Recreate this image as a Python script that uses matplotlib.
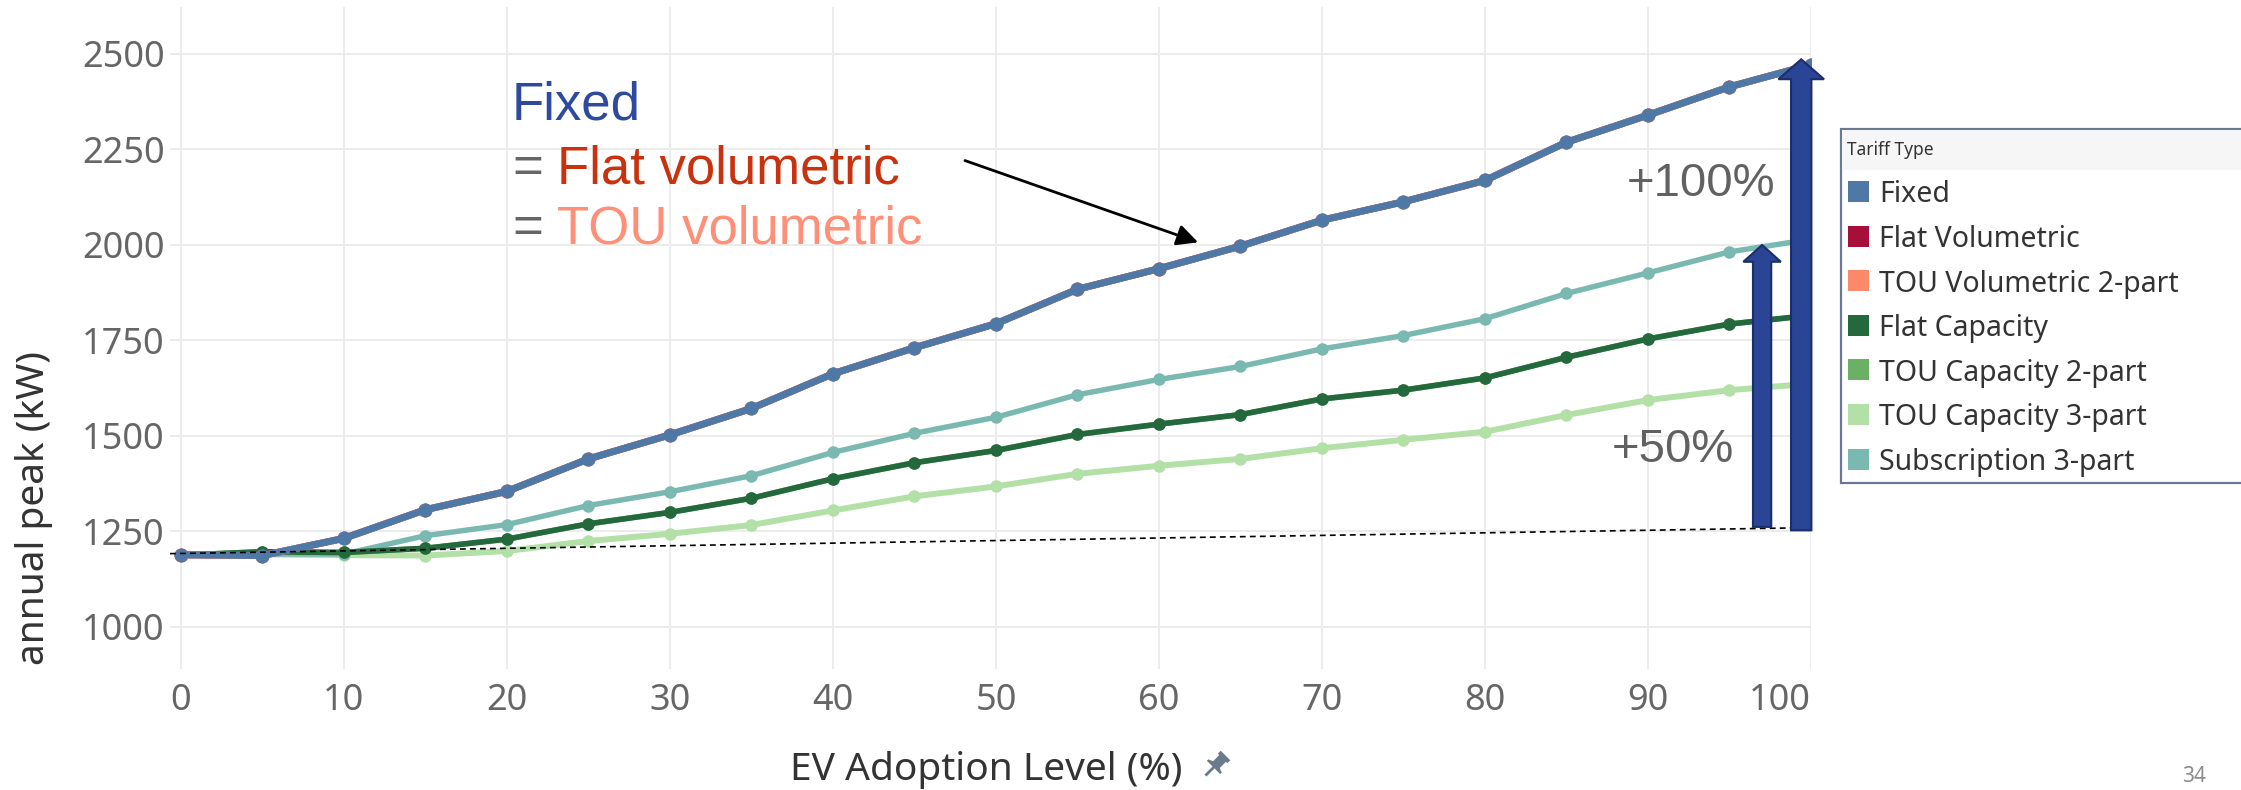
import numpy as np
import matplotlib
matplotlib.use("Agg")
import matplotlib.pyplot as plt
from matplotlib.patches import FancyArrow, Rectangle, Polygon

# ---- data -------------------------------------------------------------
ev_adoption = [0, 5, 10, 15, 20, 25, 30, 35, 40, 45, 50,
               55, 60, 65, 70, 75, 80, 85, 90, 95, 100]

fixed = [1189, 1187, 1232, 1307, 1355, 1440, 1503, 1572, 1663, 1731, 1794,
         1884, 1938, 1997, 2065, 2113, 2169, 2269, 2340, 2414, 2472]
flat_volumetric = [1189, 1187, 1232, 1307, 1355, 1440, 1503, 1572, 1663, 1731, 1794,
                   1884, 1938, 1997, 2065, 2113, 2169, 2269, 2340, 2414, 2472]
tou_volumetric_2part = [1189, 1187, 1232, 1307, 1355, 1440, 1503, 1572, 1663, 1731, 1794,
                        1884, 1938, 1997, 2065, 2113, 2169, 2269, 2340, 2414, 2472]
flat_capacity = [1188, 1197, 1195, 1206, 1230, 1270, 1300, 1337, 1388, 1430, 1462,
                 1504, 1531, 1556, 1597, 1620, 1652, 1706, 1754, 1793, 1816]
tou_capacity_2part = [1188, 1197, 1195, 1206, 1230, 1270, 1300, 1337, 1388, 1430, 1462,
                      1504, 1531, 1556, 1597, 1620, 1652, 1706, 1754, 1793, 1816]
tou_capacity_3part = [1188, 1190, 1188, 1187, 1199, 1225, 1244, 1267, 1305, 1342, 1368,
                      1401, 1422, 1440, 1468, 1490, 1511, 1555, 1594, 1620, 1637]
subscription_3part = [1188, 1191, 1191, 1239, 1268, 1318, 1354, 1396, 1457, 1507, 1549,
                      1608, 1648, 1682, 1728, 1763, 1807, 1873, 1927, 1982, 2015]

tariff_names = ["Fixed", "Flat Volumetric", "TOU Volumetric 2-part", "Flat Capacity",
                "TOU Capacity 2-part", "TOU Capacity 3-part", "Subscription 3-part"]
tariff_colors = ["#4E79A7", "#A50F3A", "#FC8A6A", "#24693D", "#6AB165", "#B3E0A6", "#7AB9B2"]
tariff_values = [fixed, flat_volumetric, tou_volumetric_2part, flat_capacity,
                 tou_capacity_2part, tou_capacity_3part, subscription_3part]

x_ticks = [0, 10, 20, 30, 40, 50, 60, 70, 80, 90, 100]
y_ticks = [1000, 1250, 1500, 1750, 2000, 2250, 2500]

# no-EV baseline trend and growth arrows
baseline_x = [-0.67, 100]
baseline_y = [1192, 1260]
growth_100_x, growth_100_from, growth_100_to = 99.4, 1253, 2486
growth_50_x, growth_50_from, growth_50_to = 97.0, 1262, 2000

# ---- figure -----------------------------------------------------------
W, H = 2241, 790
fig = plt.figure(figsize=(W / 100, H / 100), dpi=100)
fig.patch.set_facecolor("white")

ax = fig.add_axes([170 / W, 1 - 669 / H, (1811 - 170) / W, (669 - 7) / H])
ax.set_xlim(-0.67, 100)
ax.set_ylim(890, 2623)
for s in ax.spines.values():
    s.set_visible(False)
ax.set_xticks(x_ticks)
ax.set_yticks(y_ticks)
ax.set_xticklabels([str(t) for t in x_ticks])
ax.set_yticklabels([str(t) for t in y_ticks])
ax.tick_params(length=0, colors="#666666", labelsize=26)
ax.tick_params(axis="x", pad=10)
ax.tick_params(axis="y", pad=4)
for lbl in ax.get_xticklabels() + ax.get_yticklabels():
    lbl.set_fontfamily("Noto Sans")
ax.get_xticklabels()[-1].set_horizontalalignment("right")
ax.grid(True, color="#ECECEC", lw=1.4)
ax.set_axisbelow(True)

# draw order: light lines first, Fixed on top of its equal twins
draw_order = [5, 6, 4, 3, 1, 2, 0]
styles = {0: (5.0, 10.0), 3: (4.0, 9.0), 4: (4.0, 9.0), 5: (4.3, 9.0), 6: (3.9, 9.0),
          1: (5.0, 10.0), 2: (5.0, 10.0)}
for z, i in enumerate(draw_order):
    lw, ms = styles[i]
    ax.plot(ev_adoption, tariff_values[i], color=tariff_colors[i], lw=lw,
            marker="o", ms=ms, markeredgewidth=0, zorder=3 + z,
            solid_capstyle="round")

ax.plot(baseline_x, baseline_y, color="black", lw=1.2, ls=(0, (3.5, 2.5)),
        zorder=12, clip_on=False)

for gx, g0, g1, w, hw, hl in [(growth_50_x, growth_50_from, growth_50_to, 1.12, 2.3, 44),
                              (growth_100_x, growth_100_from, growth_100_to, 1.25, 2.8, 52)]:
    arr = FancyArrow(gx, g0, 0, g1 - g0, width=w, head_width=hw, head_length=hl,
                     length_includes_head=True, facecolor="#2B4596",
                     edgecolor="#1B2E6B", lw=1.5, zorder=14, clip_on=False)
    ax.add_patch(arr)

ax.annotate("", xy=(62.4, 2007), xytext=(48.1, 2221),
            arrowprops=dict(arrowstyle="-|>", color="black", lw=2.0,
                            mutation_scale=32, shrinkA=0, shrinkB=0),
            zorder=15)

# ---- overlay in pixel coordinates -------------------------------------
ov = fig.add_axes([0, 0, 1, 1], zorder=20)
ov.set_xlim(0, W)
ov.set_ylim(H, 0)
ov.axis("off")

ann_font = "Liberation Sans"
ov.text(512, 119, "Fixed", fontsize=38, color="#2E4A9E", family=ann_font, va="baseline")
ov.text(512, 183, "=", fontsize=38, color="#666666", family=ann_font, va="baseline")
ov.text(557, 183, "Flat volumetric", fontsize=38, color="#C8320F", family=ann_font, va="baseline")
ov.text(512, 243, "=", fontsize=38, color="#666666", family=ann_font, va="baseline")
ov.text(557, 243, "TOU volumetric", fontsize=38, color="#FF8F77", family=ann_font, va="baseline")

ov.text(1775, 196, "+100%", fontsize=34, color="#616161", family=ann_font, ha="right", va="baseline")
ov.text(1734, 462, "+50%", fontsize=34, color="#616161", family=ann_font, ha="right", va="baseline")

# axis titles
ov.text(34, 508, "annual peak (kW)", fontsize=28, color="#333333", family="Noto Sans",
        rotation=90, ha="center", va="center")
ov.text(986, 770, "EV Adoption Level (%)", fontsize=28, color="#333333", family="Noto Sans",
        fontweight="medium", ha="center", va="center")

# pushpin icon next to the x title
pin = 1.35 * np.array([
    [-5, 11], [5, 11], [5, 8], [3.5, 8], [3.5, 1.5], [7, 0], [7, -1.5],
    [-7, -1.5], [-7, 0], [-3.5, 1.5], [-3.5, 8], [-5, 8]])
theta = np.deg2rad(-45)
rot = np.array([[np.cos(theta), -np.sin(theta)], [np.sin(theta), np.cos(theta)]])
cx, cy = 1215, 766
p = pin @ rot.T
ov.add_patch(Polygon(np.column_stack([cx + p[:, 0], cy - p[:, 1]]), closed=True,
                     facecolor="#6B7B8C", edgecolor="none"))
needle = 1.35 * np.array([[0, -1.5], [0, -9]]) @ rot.T
ov.plot(cx + needle[:, 0], cy - needle[:, 1], color="#6B7B8C", lw=2.0)

# legend panel
ov.add_patch(Rectangle((1841, 129), W - 1841 + 20, 483 - 129, facecolor="white",
                       edgecolor="#6A7896", lw=1.6))
ov.add_patch(Rectangle((1842, 130), W - 1842 + 20, 40, facecolor="#F6F6F6",
                       edgecolor="none"))
ov.text(1847, 150, "Tariff Type", fontsize=12.5, color="#333333", family="Noto Sans",
        va="center")
for k, (name, col) in enumerate(zip(tariff_names, tariff_colors)):
    yc = 191.5 + k * 44.6
    ov.add_patch(Rectangle((1848, yc - 10.5), 21, 21, facecolor=col, edgecolor="none"))
    ov.text(1879, yc, name, fontsize=20.5, color="#333333", family="Noto Sans",
            va="center_baseline")

ov.text(2194, 777, "34", fontsize=15, color="#8C8C8C", family="Noto Sans",
        ha="center", va="center")

fig.savefig("out.png", dpi=100)
